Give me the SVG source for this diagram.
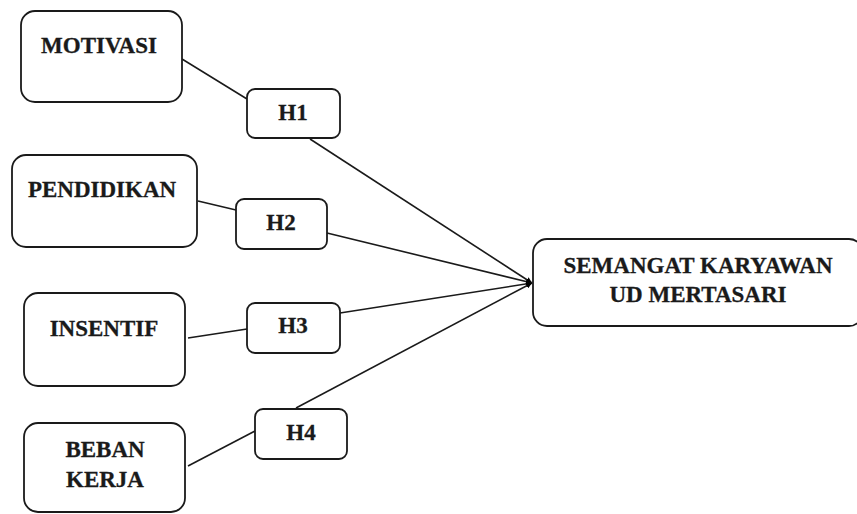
<svg xmlns="http://www.w3.org/2000/svg" width="857" height="514" viewBox="0 0 857 514">
<defs>
<style>
.box{fill:#fff;stroke:#1a1a1a;stroke-width:1.8}
.t{font-family:'Liberation Serif','DejaVu Serif','Times New Roman',serif;font-weight:700;font-size:23px;fill:#1a1a1a;stroke:#1a1a1a;stroke-width:0.3;text-anchor:middle}
.c{stroke:#1a1a1a;stroke-width:1.6;fill:none}
</style>
<marker id="ah" viewBox="0 0 10 10" refX="10" refY="5" markerWidth="6" markerHeight="6" orient="auto" markerUnits="userSpaceOnUse">
<path d="M0,0 L10,5 L0,10 z" fill="#000"/>
</marker>
</defs>
<rect width="857" height="514" fill="#fff"/>
<g id="connectors">
<line class="c" x1="182" y1="59" x2="247" y2="99"/>
<line class="c" x1="310" y1="139" x2="532" y2="283" marker-end="url(#ah)"/>
<line class="c" x1="198" y1="201" x2="236" y2="210"/>
<line class="c" x1="327" y1="233" x2="532" y2="283" marker-end="url(#ah)"/>
<line class="c" x1="188" y1="338" x2="247" y2="329"/>
<line class="c" x1="340" y1="313" x2="532" y2="283" marker-end="url(#ah)"/>
<line class="c" x1="188" y1="466" x2="255" y2="431"/>
<line class="c" x1="296" y1="408" x2="532" y2="283" marker-end="url(#ah)"/>
</g>
<g id="motivasi">
<rect class="box" x="21" y="11" width="161" height="91" rx="14"/>
<text class="t" x="99" y="53">MOTIVASI</text>
</g>
<g id="pendidikan">
<rect class="box" x="12" y="155" width="185" height="92" rx="14"/>
<text class="t" x="102" y="197">PENDIDIKAN</text>
</g>
<g id="insentif">
<rect class="box" x="24" y="293" width="161" height="93" rx="14"/>
<text class="t" x="104" y="336">INSENTIF</text>
</g>
<g id="beban">
<rect class="box" x="24" y="423" width="161" height="89" rx="14"/>
<text class="t" x="105" y="457">BEBAN</text>
<text class="t" x="105" y="487">KERJA</text>
</g>
<g id="h1">
<rect class="box" x="247" y="89" width="93" height="49" rx="8"/>
<text class="t" x="293" y="120">H1</text>
</g>
<g id="h2">
<rect class="box" x="236" y="199" width="91" height="50" rx="8"/>
<text class="t" x="281" y="230">H2</text>
</g>
<g id="h3">
<rect class="box" x="247" y="303" width="93" height="50" rx="8"/>
<text class="t" x="293" y="333">H3</text>
</g>
<g id="h4">
<rect class="box" x="255" y="409" width="92" height="50" rx="8"/>
<text class="t" x="301" y="440">H4</text>
</g>
<g id="semangat">
<rect class="box" x="533" y="239" width="330" height="87" rx="14"/>
<text class="t" x="698" y="273">SEMANGAT KARYAWAN</text>
<text class="t" x="698" y="302">UD MERTASARI</text>
</g>
</svg>
